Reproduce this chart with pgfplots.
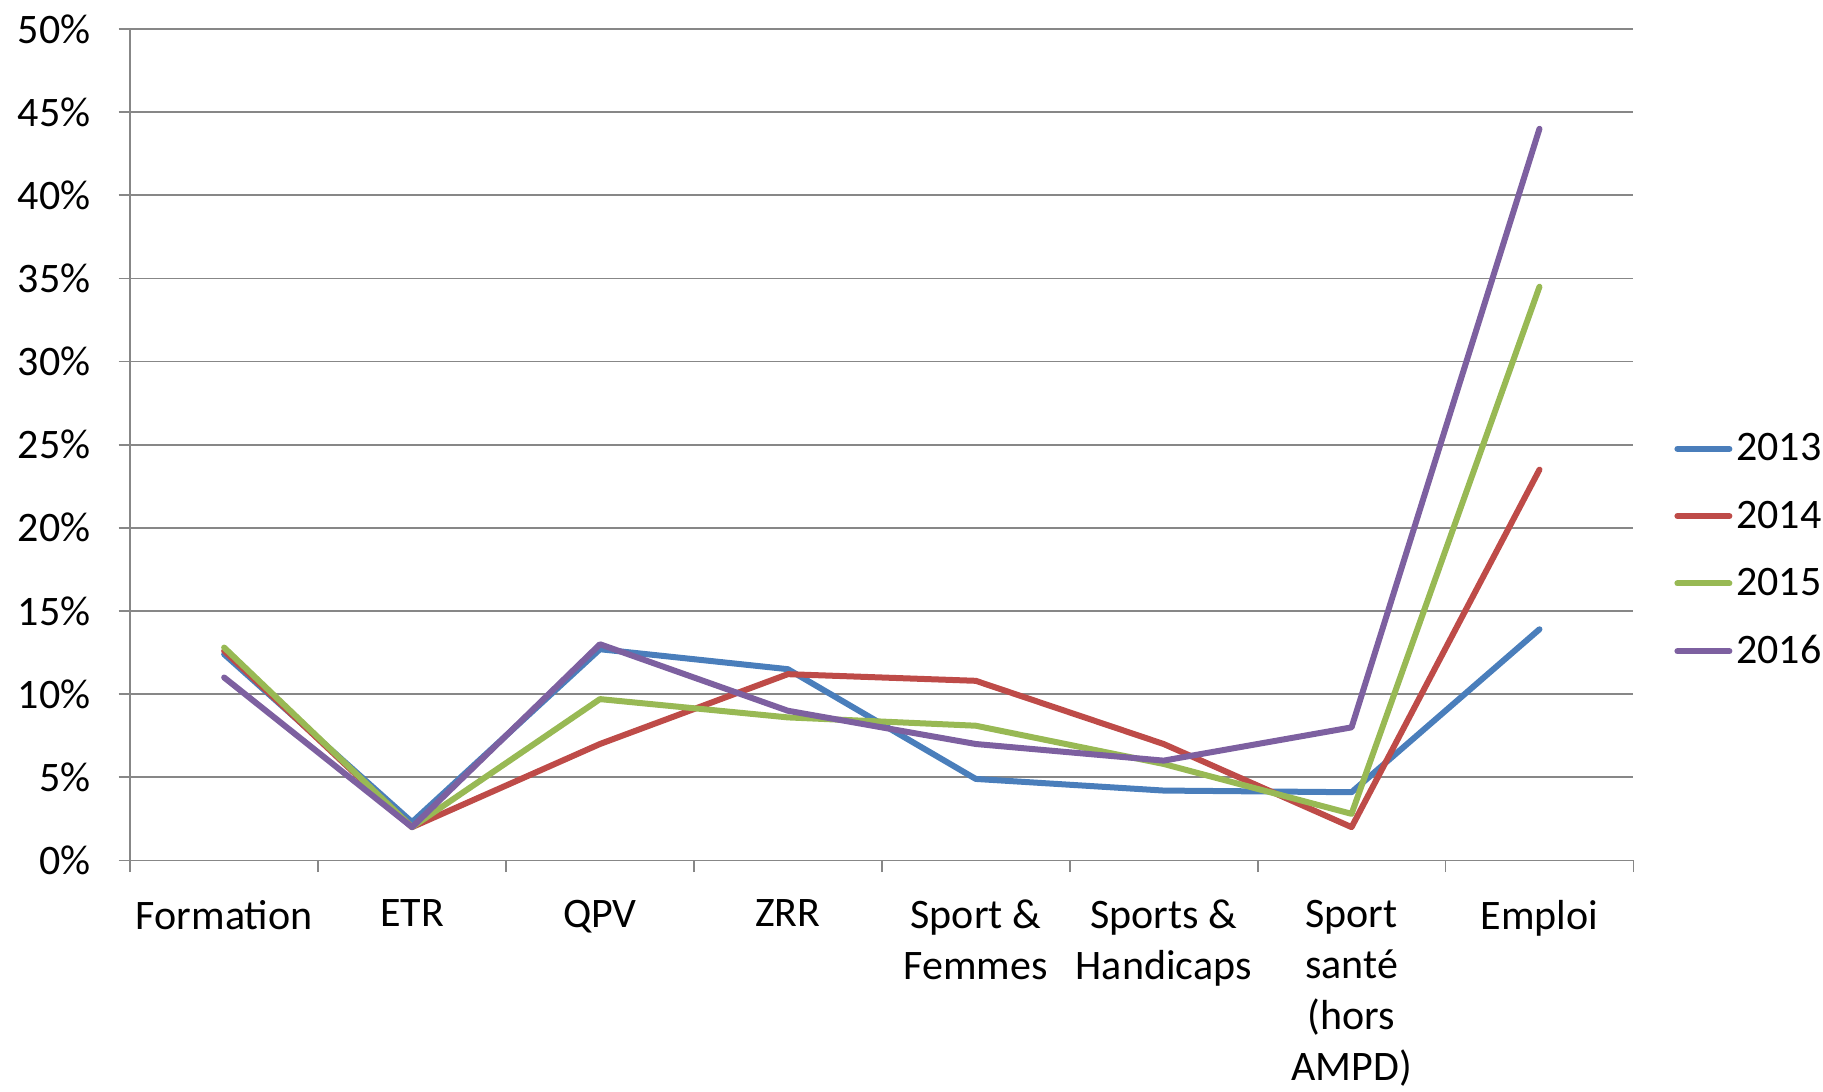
\documentclass[border=0pt]{standalone}
\usepackage{pgfplots}
\pgfplotsset{compat=1.18}
\usepackage{fontspec}
\setmainfont{Carlito}
\definecolor{c13}{HTML}{4A7EBB}
\definecolor{c14}{HTML}{BE4B48}
\definecolor{c15}{HTML}{98B954}
\definecolor{c16}{HTML}{7D60A0}
\definecolor{gridgray}{HTML}{878787}
\begin{document}
\begin{tikzpicture}
\useasboundingbox (-65.1pt,-115.3pt) rectangle (846.4pt,430.2pt);
\begin{axis}[
  scale only axis,
  width=751.6pt, height=415.7pt,
  at={(0,0)}, anchor=south west,
  xmin=-0.5, xmax=7.5,
  ymin=0, ymax=50,
  axis x line*=bottom,
  axis y line*=left,
  axis line style={gridgray, line width=0.9pt},
  every outer x axis line/.append style={-},
  every outer y axis line/.append style={-},
  xtick={0,...,7},
  xticklabels={Formation,ETR,QPV,ZRR,{Sport \&\\Femmes},{Sports \&\\Handicaps},{Sport\\santé\\(hors\\AMPD)},Emploi},
  major x tick style={draw=none},
  minor xtick={-0.5,0.5,...,7.5},
  minor x tick style={gridgray, line width=0.9pt},
  minor tick length=5.8pt,
  ytick={0,5,...,50},
  yticklabel={\pgfmathprintnumber{\tick}\%},
  major y tick style={gridgray, line width=0.9pt},
  major tick length=5.8pt,
  tick align=outside,
  ymajorgrids,
  grid style={gridgray, line width=0.9pt},
  /pgf/number format/assume math mode=true,
  x tick label style={font=\fontsize{21}{25.6}\selectfont, align=center, anchor=north, inner sep=0pt, yshift=-13.8pt},
  y tick label style={font=\fontsize{21}{25.6}\selectfont, anchor=east, inner sep=0pt, xshift=-13.9pt},
  clip=false,
  legend style={at={(rel axis cs:1.027,0.373)}, anchor=west, draw=none, fill=none,
    font=\fontsize{21}{25.6}\selectfont, row sep=14.5pt, inner sep=0pt,
    /tikz/every even column/.append style={column sep=0pt}},
  legend cell align=left,
  legend image code/.code={\draw[#1, line cap=round] (0pt,0pt) -- (26pt,0pt);},
  every axis plot/.append style={line width=3pt, line join=round, line cap=round},
]
\addplot[c13] coordinates {(0,12.4) (1,2.3) (2,12.7) (3,11.5) (4,4.9) (5,4.2) (6,4.1) (7,13.9)};
\addplot[c14] coordinates {(0,12.6) (1,2.0) (2,7.0) (3,11.2) (4,10.8) (5,7.0) (6,2.0) (7,23.5)};
\addplot[c15] coordinates {(0,12.8) (1,2.0) (2,9.7) (3,8.6) (4,8.1) (5,5.8) (6,2.8) (7,34.5)};
\addplot[c16] coordinates {(0,11.0) (1,2.0) (2,13.0) (3,9.0) (4,7.0) (5,6.0) (6,8.0) (7,44.0)};
\legend{2013,2014,2015,2016}
\end{axis}
\end{tikzpicture}
\end{document}
